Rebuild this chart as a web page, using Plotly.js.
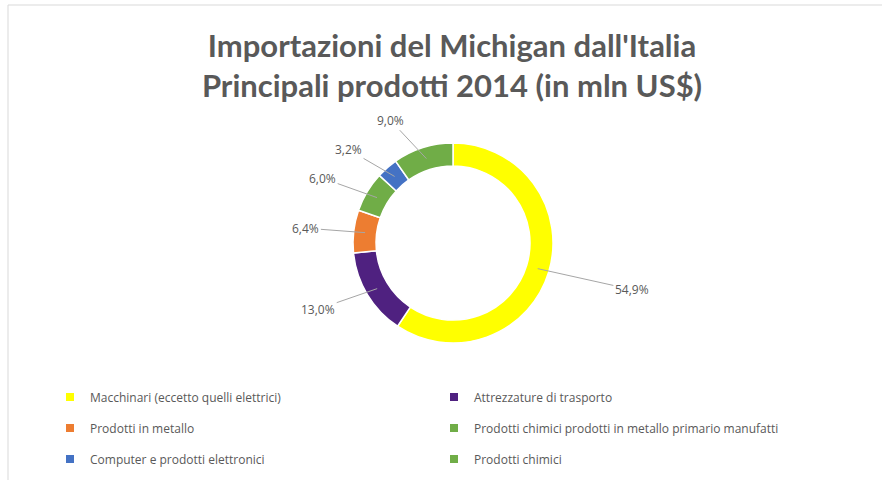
<!DOCTYPE html>
<html>
<head>
<meta charset="utf-8">
<script src="https://cdn.plot.ly/plotly-3.0.1.min.js"></script>
<style>html,body{margin:0;padding:0;background:#fff;}</style>
</head>
<body>
<div id="chart" style="width:882px;height:480px;"></div>
<script>
// ---- data ----
const categories = [
  'Macchinari (eccetto quelli elettrici)',
  'Attrezzature di trasporto',
  'Prodotti in metallo',
  'Prodotti chimici prodotti in metallo primario manufatti',
  'Computer e prodotti elettronici',
  'Prodotti chimici'
];
const shares = [54.9, 13.0, 6.4, 6.0, 3.2, 9.0];
const sliceColors = ['#FFFF00', '#4F2180', '#ED7D31', '#70AD47', '#4472C4', '#70AD47'];
const titleLines = ["Importazioni del Michigan dall'Italia", 'Principali prodotti 2014 (in mln US$)'];

// ---- layout constants ----
const W = 882, H = 480;
const CX = 453, CY = 243, R = 100, HOLE = 0.77;
const textColor = '#595959';
const fontFam = '"Open Sans", "Noto Sans", sans-serif';

const fmt = v => v.toFixed(1).replace('.', ',') + '%';
const px2x = p => p / W;
const px2y = p => 1 - p / H;

// main donut
const total = shares.reduce((a, b) => a + b, 0);
const donut = {
  type: 'pie',
  labels: categories,
  values: shares,
  sort: false,
  direction: 'clockwise',
  rotation: 0,
  hole: HOLE,
  textinfo: 'none',
  hoverinfo: 'label+text',
  text: shares.map(fmt),
  showlegend: false,
  marker: { colors: sliceColors, line: { color: '#ffffff', width: 1.5 } },
  domain: { x: [px2x(CX - R), px2x(CX + R)], y: [px2y(CY + R), px2y(CY - R)] }
};

// legend rows (2 entries per row) drawn by tiny pie traces bound to separate legends
const legendIds = ['legend', 'legend2', 'legend3'];
const legendTraces = legendIds.map((lid, k) => ({
  type: 'pie',
  labels: categories.slice(2 * k, 2 * k + 2),
  values: shares.slice(2 * k, 2 * k + 2),
  sort: false,
  textinfo: 'none',
  hoverinfo: 'skip',
  legend: lid,
  marker: { colors: sliceColors.slice(2 * k, 2 * k + 2), line: { color: '#ffffff', width: 4 } },
  domain: { x: [0, 0.0001], y: [0, 0.0001] }
}));

// data labels with leader lines, positions derived from the slice angles
const rMid = R * (1 + HOLE) / 2;
let cum = 0;
const annotations = shares.map((v, i) => {
  const frac = v / total;
  const mid = (cum + frac / 2) * 2 * Math.PI;
  cum += frac;
  const dx = Math.sin(mid), dy = -Math.cos(mid);
  const ax0 = CX + dx * rMid, ay0 = CY + dy * rMid;
  const rt = 118 + 72 * frac;
  const push = 25 * Math.sign(dx);
  const tx = CX + dx * rt + push, ty = CY + dy * rt * (dy > 0 ? 1.0 : 1.03);
  return {
    x: px2x(ax0), y: px2y(ay0), xref: 'paper', yref: 'paper',
    text: fmt(v),
    showarrow: true, arrowhead: 0, arrowwidth: 1, arrowcolor: '#a6a6a6',
    standoff: 0, startstandoff: 0,
    ax: tx - ax0, ay: ty - ay0,
    font: { family: fontFam, size: 12, color: textColor }
  };
});

const legendBase = {
  orientation: 'h',
  xanchor: 'left', yanchor: 'middle',
  x: px2x(50),
  entrywidth: 339, entrywidthmode: 'pixels',
  font: { family: fontFam, size: 12, color: textColor },
  bgcolor: 'rgba(0,0,0,0)'
};
const rowY = [397, 428, 459];

const layout = {
  width: W, height: H,
  margin: { l: 0, r: 0, t: 0, b: 0 },
  paper_bgcolor: '#ffffff',
  title: {
    text: titleLines.join('<br>'),
    font: { family: 'Lato, "Open Sans", sans-serif', size: 31, color: textColor, weight: 'bold' },
    x: px2x(452), xanchor: 'center', xref: 'paper',
    y: 1 - 57 / H, yanchor: 'top', yref: 'container'
  },
  annotations: annotations,
  legend: Object.assign({}, legendBase, { y: px2y(rowY[0]) }),
  legend2: Object.assign({}, legendBase, { y: px2y(rowY[1]) }),
  legend3: Object.assign({}, legendBase, { y: px2y(rowY[2]) }),
  shapes: [
    { type: 'line', xref: 'paper', yref: 'paper', x0: px2x(8), x1: 1, y0: px2y(5), y1: px2y(5), line: { color: '#d9d9d9', width: 1 } },
    { type: 'line', xref: 'paper', yref: 'paper', x0: px2x(8), x1: px2x(8), y0: px2y(5), y1: 0, line: { color: '#d9d9d9', width: 1 } }
  ]
};

Plotly.newPlot('chart', [donut].concat(legendTraces), layout, { displayModeBar: false, responsive: false });
</script>
</body>
</html>
